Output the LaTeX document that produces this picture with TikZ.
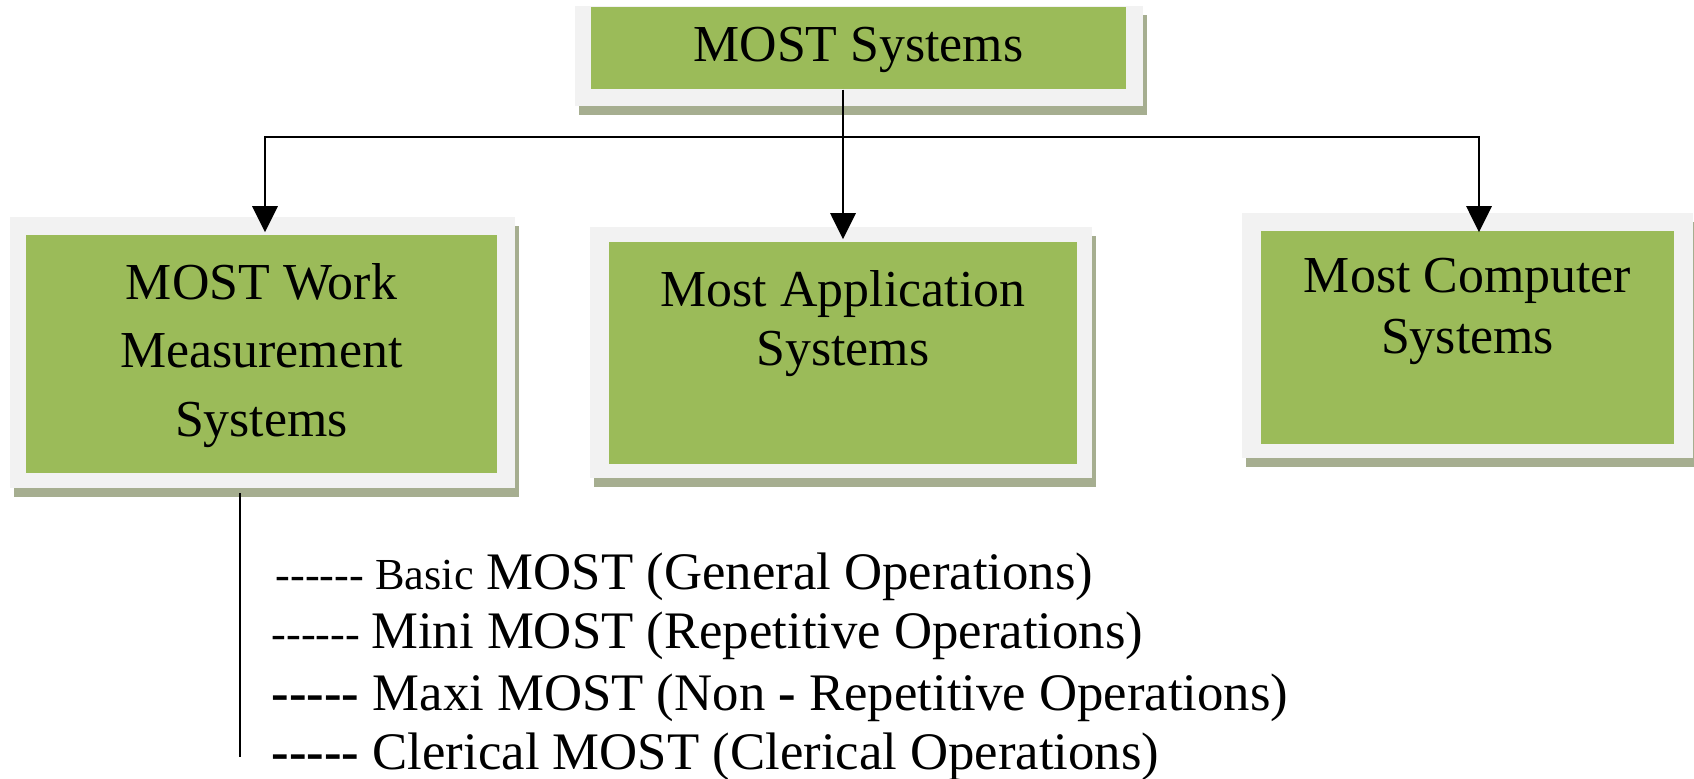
\documentclass[tikz,border=0pt]{standalone}
\usepackage{fontspec}
\setmainfont{Liberation Serif}
\usetikzlibrary{arrows.meta,calc,backgrounds}

\definecolor{boxgreen}{HTML}{9BBB59}
\definecolor{boxframe}{HTML}{F2F2F2}
\definecolor{boxshadow}{HTML}{A6AE90}

% a single hyphen that never joins its neighbours into a dash ligature
\newcommand\hy{\mbox{-}}
% centred lines whose baseline is that of the first line
\newcommand\boxlines[1]{\begin{tabular}[t]{@{}c@{}}#1\end{tabular}}
% light frame and drop shadow behind a green box: node, left, top, right, bottom margins
\newcommand\panelbg[5]{%
  \fill[boxshadow] ($(#1.north west)+(-#2+4,-#3+9)$) rectangle ($(#1.south east)+(#4+4,#5+9)$);
  \fill[boxframe] ($(#1.north west)+(-#2,-#3)$) rectangle ($(#1.south east)+(#4,#5)$);}

\begin{document}
\begin{tikzpicture}[x=0.01cm,y=-0.01cm,
  greenbox/.style={fill=boxgreen, inner sep=0pt, anchor=base},
  boxfont/.style={font=\fontsize{14.75pt}{#1}\selectfont},
  conn/.style={line width=0.028cm, black},
  arr/.style={conn, -{Triangle[width=0.25cm,length=0.26cm]}},
  listline/.style={line width=0.022cm, black},
  item/.style={anchor=base west, inner sep=0pt, font=\fontsize{15pt}{18pt}\selectfont},
]
\useasboundingbox (0,0) rectangle (1694,779);

% boxes
\node[greenbox, boxfont=17pt, minimum width=5.35cm, text height=0.55cm, text depth=0.27cm]
  (top) at (858.5,62) {MOST Systems};
\node[greenbox, boxfont=19.6pt, minimum width=4.71cm, text height=0.64cm, text depth=1.74cm]
  (wm) at (261.5,299) {\boxlines{MOST Work\\Measurement\\Systems}};
\node[greenbox, boxfont=16.8pt, minimum width=4.68cm, text height=0.64cm, text depth=1.58cm]
  (app) at (843,306) {\boxlines{Most Application\\Systems}};
\node[greenbox, boxfont=17.4pt, minimum width=4.13cm, text height=0.61cm, text depth=1.52cm]
  (comp) at (1467.5,292) {\boxlines{Most Computer\\Systems}};

\begin{scope}[on background layer]
  \panelbg{top}{15}{0}{16}{16}
  \panelbg{wm}{15}{17}{17}{14}
  \panelbg{app}{18}{14}{14}{13}
  \panelbg{comp}{18}{17}{18}{13}
\end{scope}

% connectors
\coordinate (bus) at (843,137);
\draw[conn] (top.south -| bus) -- (bus);
\draw[arr] (bus) -| ($(wm.north)+(3.5,-2)$);
\draw[arr] (bus) -- ($(app.north)+(0,-2)$);
\draw[arr] (bus) -| ($(comp.north)+(11.5,2)$);

% list of work measurement systems
\coordinate (lt) at (240,493);
\coordinate (lb) at (240,757);
\draw[listline] (lt) -- (lb);

\node[item] (i1) at (275,589)
  {{\fontsize{12.6pt}{15pt}\selectfont\hy\hy\hy\hy\hy\hy\ Basic} MOST (General Operations)};
\node[item] (i2) at (271,648)
  {{\fontsize{12.6pt}{15pt}\selectfont\hy\hy\hy\hy\hy\hy\ }Mini MOST (Repetitive Operations)};
\node[item] (i3) at (271,710)
  {{\bfseries\hy\hy\hy\hy\hy}\ Maxi MOST (Non \textbf{-} Repetitive Operations)};
\node[item] (i4) at (271,769)
  {{\bfseries\hy\hy\hy\hy\hy}\ Clerical MOST (Clerical Operations)};
\end{tikzpicture}
\end{document}
